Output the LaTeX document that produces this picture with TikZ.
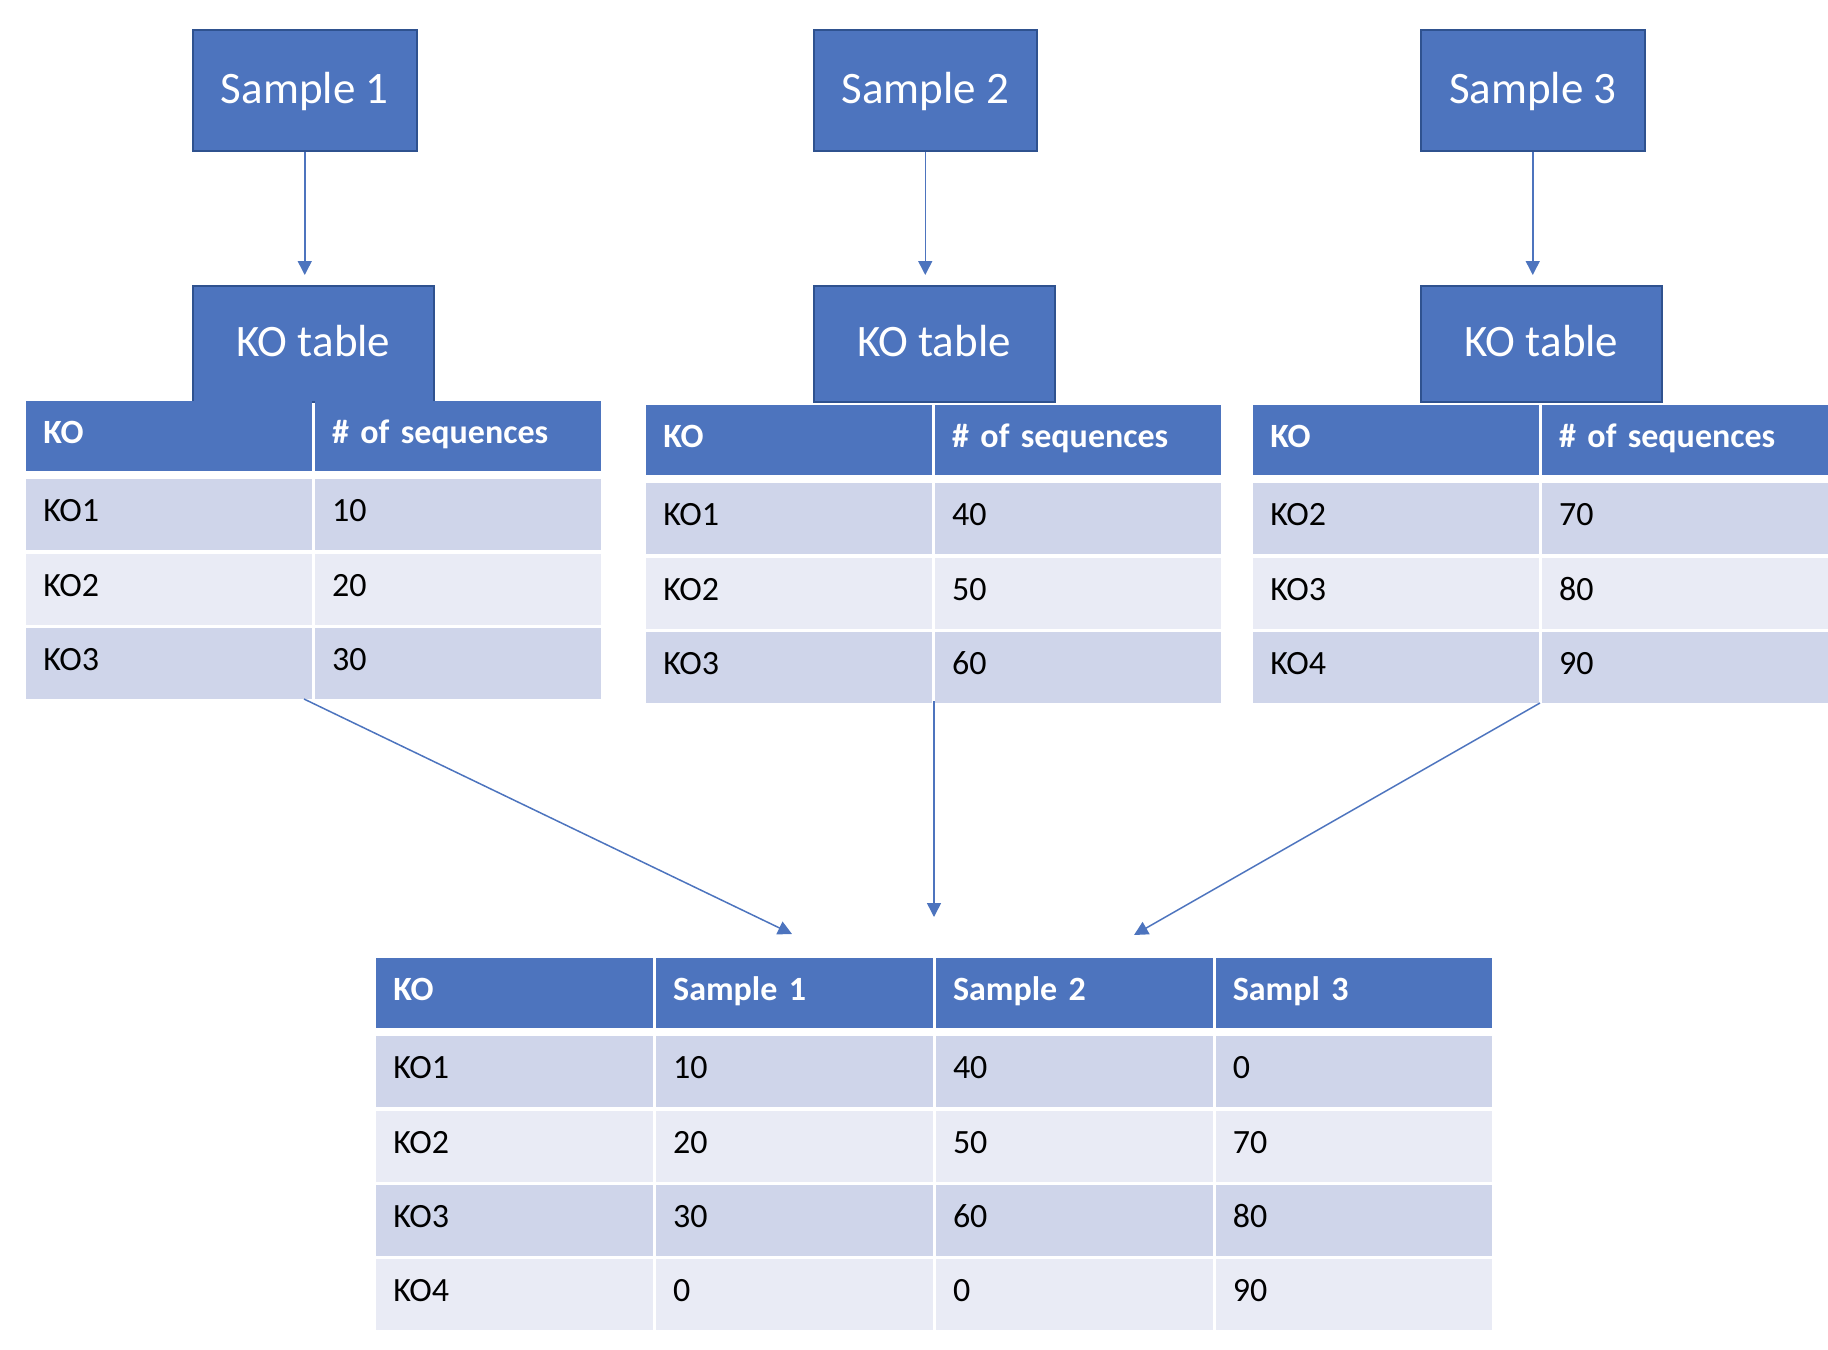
\documentclass[tikz,border=0pt]{standalone}
\usepackage{fontspec}
\setmainfont{Carlito}
\usepackage{xcolor}
\usepackage{tikz}
\usetikzlibrary{positioning, arrows.meta}

\definecolor{koblue}{HTML}{4D74BE}
\definecolor{koedge}{HTML}{2F528F}
\definecolor{rowdark}{HTML}{CFD5EA}
\definecolor{rowlight}{HTML}{E9EBF5}

\tikzset{
  cell/.style={rectangle, inner xsep=8.5pt, inner ysep=0pt, align=left,
               text height=12.5pt, text depth=5.5pt, font=\fontsize{17}{20}\selectfont},
  small cell/.style={cell, minimum width=142.75pt, text width=125.75pt},
  big cell/.style={cell, minimum width=138.25pt, text width=121.25pt},
  head cell/.style={fill=koblue, text=white, minimum height=35pt,
                    font=\fontsize{17}{20}\selectfont\bfseries},
  dark row/.style={fill=rowdark, minimum height=35.5pt},
  light row/.style={fill=rowlight, minimum height=35.5pt},
  link/.style={draw=koblue, line width=0.75pt, -{Triangle[length=7pt,width=7pt]}}
}

\begin{document}
\begin{tikzpicture}[x=0.5pt,y=-0.5pt,
                    sample box/.style={rectangle,fill=koblue,draw=koedge,line width=1pt,text=white,
                                       minimum width=111.75pt,minimum height=60.5pt,
                                       text height=14.2pt,text depth=1.5pt,
                                       font=\fontsize{22.5}{27}\selectfont},
                    ko box/.style={sample box,minimum width=120.5pt,minimum height=58pt}]

  \useasboundingbox (0,0) rectangle (1828,1350);

  \node[sample box] (s1) at (304.75,90.5) {Sample 1};
  \node[sample box] (s2) at (925.25,90.5) {Sample 2};
  \node[sample box] (s3) at (1532.75,90.5) {Sample 3};

  \node[ko box, below=66.5pt of s1.south west, anchor=north west] (k1) {KO table};
  \node[ko box, below=66.5pt of s2.south west, anchor=north west] (k2) {KO table};
  \node[ko box, below=66.5pt of s3.south west, anchor=north west] (k3) {KO table};

  % table of sample 1
  \node[small cell, head cell, anchor=north west] (t1h1) at (26,401) {KO};
  \node[small cell, head cell, right=1.25pt of t1h1] (t1h2) {\# of sequences};
  \node[small cell, dark row, below=3.5pt of t1h1] (t1r1a) {KO1};
  \node[small cell, dark row, right=1.25pt of t1r1a] (t1r1b) {10};
  \node[small cell, light row, below=1.25pt of t1r1a] (t1r2a) {KO2};
  \node[small cell, light row, right=1.25pt of t1r2a] (t1r2b) {20};
  \node[small cell, dark row, below=1.25pt of t1r2a] (t1r3a) {KO3};
  \node[small cell, dark row, right=1.25pt of t1r3a] (t1r3b) {30};

  % table of sample 2
  \node[small cell, head cell, anchor=north west] (t2h1) at (646,405) {KO};
  \node[small cell, head cell, right=1.25pt of t2h1] (t2h2) {\# of sequences};
  \node[small cell, dark row, below=3.5pt of t2h1] (t2r1a) {KO1};
  \node[small cell, dark row, right=1.25pt of t2r1a] (t2r1b) {40};
  \node[small cell, light row, below=1.25pt of t2r1a] (t2r2a) {KO2};
  \node[small cell, light row, right=1.25pt of t2r2a] (t2r2b) {50};
  \node[small cell, dark row, below=1.25pt of t2r2a] (t2r3a) {KO3};
  \node[small cell, dark row, right=1.25pt of t2r3a] (t2r3b) {60};

  % table of sample 3
  \node[small cell, head cell, anchor=north west] (t3h1) at (1253,405) {KO};
  \node[small cell, head cell, right=1.25pt of t3h1] (t3h2) {\# of sequences};
  \node[small cell, dark row, below=3.5pt of t3h1] (t3r1a) {KO2};
  \node[small cell, dark row, right=1.25pt of t3r1a] (t3r1b) {70};
  \node[small cell, light row, below=1.25pt of t3r1a] (t3r2a) {KO3};
  \node[small cell, light row, right=1.25pt of t3r2a] (t3r2b) {80};
  \node[small cell, dark row, below=1.25pt of t3r2a] (t3r3a) {KO4};
  \node[small cell, dark row, right=1.25pt of t3r3a] (t3r3b) {90};

  % merged table
  \node[big cell, head cell, anchor=north west] (mh1) at (376,958) {KO};
  \node[big cell, head cell, right=1.25pt of mh1] (mh2) {Sample 1};
  \node[big cell, head cell, right=1.25pt of mh2] (mh3) {Sample 2};
  \node[big cell, head cell, right=1.25pt of mh3] (mh4) {Sampl 3};
  \node[big cell, dark row, below=3.5pt of mh1] (mr1a) {KO1};
  \node[big cell, dark row, right=1.25pt of mr1a] (mr1b) {10};
  \node[big cell, dark row, right=1.25pt of mr1b] (mr1c) {40};
  \node[big cell, dark row, right=1.25pt of mr1c] (mr1d) {0};
  \node[big cell, light row, below=1.25pt of mr1a] (mr2a) {KO2};
  \node[big cell, light row, right=1.25pt of mr2a] (mr2b) {20};
  \node[big cell, light row, right=1.25pt of mr2b] (mr2c) {50};
  \node[big cell, light row, right=1.25pt of mr2c] (mr2d) {70};
  \node[big cell, dark row, below=1.25pt of mr2a] (mr3a) {KO3};
  \node[big cell, dark row, right=1.25pt of mr3a] (mr3b) {30};
  \node[big cell, dark row, right=1.25pt of mr3b] (mr3c) {60};
  \node[big cell, dark row, right=1.25pt of mr3c] (mr3d) {80};
  \node[big cell, light row, below=1.25pt of mr3a] (mr4a) {KO4};
  \node[big cell, light row, right=1.25pt of mr4a] (mr4b) {0};
  \node[big cell, light row, right=1.25pt of mr4b] (mr4c) {0};
  \node[big cell, light row, right=1.25pt of mr4c] (mr4d) {90};

  \draw[link, shorten >=5pt] (s1) -- (s1 |- k1.north);
  \draw[link, shorten >=5pt] (s2) -- (s2 |- k2.north);
  \draw[link, shorten >=5pt] (s3) -- (s3 |- k3.north);

  \coordinate (from1) at (304,699);
  \coordinate (from2) at (934,701);
  \coordinate (from3) at (1540,703);
  \coordinate (into1) at (792,934);
  \coordinate (into2) at (934,917);
  \coordinate (into3) at (1134,935);

  \draw[link] (from1) -- (into1);
  \draw[link] (from2) -- (into2);
  \draw[link] (from3) -- (into3);

\end{tikzpicture}
\end{document}
